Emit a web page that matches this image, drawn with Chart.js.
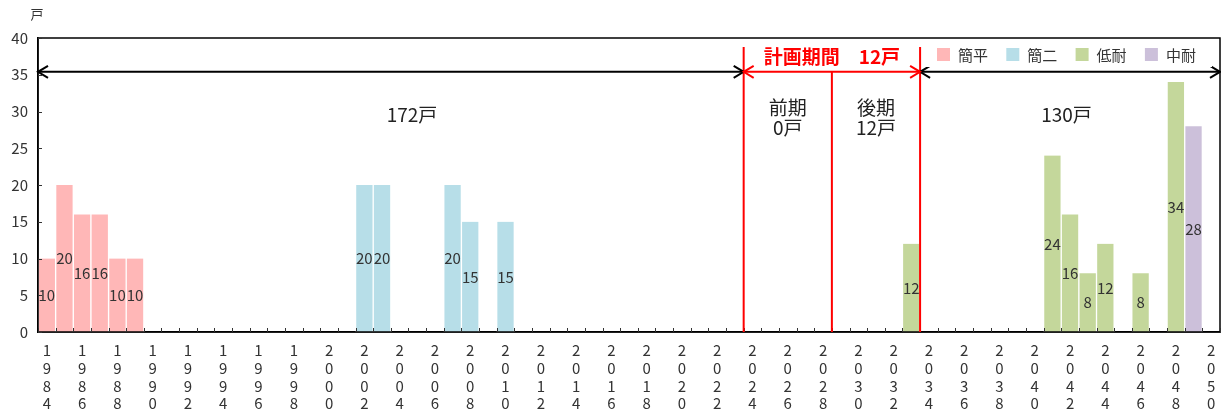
<!DOCTYPE html>
<html lang="ja">
<head>
<meta charset="utf-8">
<script src="https://cdn.jsdelivr.net/npm/chart.js@4.4.1/dist/chart.umd.min.js"></script>
<style>
  html, body { margin: 0; padding: 0; background: #fff; }
  #wrap { width: 1221px; height: 412px; position: relative; }
</style>
</head>
<body>
<div id="wrap"><canvas id="c" width="1221" height="412"></canvas></div>
<script>
// 年度
const years = [
  1984, 1985, 1986, 1987, 1988, 1989, 1990, 1991, 1992, 1993,
  1994, 1995, 1996, 1997, 1998, 1999, 2000, 2001, 2002, 2003,
  2004, 2005, 2006, 2007, 2008, 2009, 2010, 2011, 2012, 2013,
  2014, 2015, 2016, 2017, 2018, 2019, 2020, 2021, 2022, 2023,
  2024, 2025, 2026, 2027, 2028, 2029, 2030, 2031, 2032, 2033,
  2034, 2035, 2036, 2037, 2038, 2039, 2040, 2041, 2042, 2043,
  2044, 2045, 2046, 2047, 2048, 2049, 2050
];

// 構造別の戸数（年度, 戸数）
const kanpeiYears  = [1984, 1985, 1986, 1987, 1988, 1989];
const kanpeiValues = [10, 20, 16, 16, 10, 10];
const kanniYears   = [2002, 2003, 2007, 2008, 2010];
const kanniValues  = [20, 20, 20, 15, 15];
const teitaiYears  = [2033, 2041, 2042, 2043, 2044, 2046, 2048];
const teitaiValues = [12, 24, 16, 8, 12, 8, 34];
const chutaiYears  = [2049];
const chutaiValues = [28];

const seriesNames = ['簡平', '簡二', '低耐', '中耐'];
const yTicks = [0, 5, 10, 15, 20, 25, 30, 35, 40];

// 期間区分（この年度の前に境界線）
const planStartYear = 2024;
const planMidYear = 2029;
const planEndYear = 2034;
const periodTexts = {
  before: '172戸',
  plan: '計画期間　12戸',
  first: ['前期', '0戸'],
  second: ['後期', '12戸'],
  after: '130戸'
};

function toSeries(ys, vs) {
  return years.map(y => {
    const i = ys.indexOf(y);
    return i >= 0 ? vs[i] : null;
  });
}

const colors = ['#FFB7B7', '#B7DEE8', '#C4D79B', '#CCC0DA'];
const FONT = '"Noto Sans CJK JP", "Noto Sans", sans-serif';

const datasets = [
  [kanpeiYears, kanpeiValues],
  [kanniYears, kanniValues],
  [teitaiYears, teitaiValues],
  [chutaiYears, chutaiValues]
].map((p, k) => ({
  label: seriesNames[k],
  data: toSeries(p[0], p[1]),
  backgroundColor: colors[k],
  borderColor: '#ffffff',
  borderWidth: { left: 1, right: 1, top: 0, bottom: 0 },
  borderSkipped: false,
  barPercentage: 1,
  categoryPercentage: 1
}));

function arrowHead(ctx, x, y, dir) {
  ctx.beginPath();
  ctx.moveTo(x + dir * 10, y - 6);
  ctx.lineTo(x, y);
  ctx.lineTo(x + dir * 10, y + 6);
  ctx.stroke();
}

function dblArrow(ctx, x1, x2, y, color) {
  ctx.save();
  ctx.strokeStyle = color;
  ctx.lineWidth = 2;
  ctx.beginPath();
  ctx.moveTo(x1, y);
  ctx.lineTo(x2, y);
  ctx.stroke();
  arrowHead(ctx, x1, y, 1);
  arrowHead(ctx, x2, y, -1);
  ctx.restore();
}

const decor = {
  id: 'decor',
  afterDatasetsDraw(chart) {
    const { ctx, chartArea: a, scales: { x, y } } = chart;

    // 枠線と内向きの目盛
    ctx.save();
    ctx.strokeStyle = '#000';
    ctx.lineWidth = 1.5;
    ctx.strokeRect(a.left, a.top, a.right - a.left, a.bottom - a.top);
    ctx.lineWidth = 1;
    ctx.strokeStyle = '#333';
    for (let i = 0; i <= years.length; i++) {
      const px = Math.round(x.getPixelForValue(i - 0.5)) + 0.5;
      ctx.beginPath();
      ctx.moveTo(px, a.bottom);
      ctx.lineTo(px, a.bottom - 4);
      ctx.stroke();
    }
    yTicks.forEach(v => {
      const py = Math.round(y.getPixelForValue(v)) + 0.5;
      ctx.beginPath();
      ctx.moveTo(a.left, py);
      ctx.lineTo(a.left + 4, py);
      ctx.stroke();
    });
    ctx.restore();

    // 値ラベル
    ctx.save();
    ctx.font = '15px ' + FONT;
    ctx.fillStyle = '#333';
    ctx.textAlign = 'center';
    ctx.textBaseline = 'middle';
    chart.data.datasets.forEach((ds, di) => {
      const meta = chart.getDatasetMeta(di);
      meta.data.forEach((el, i) => {
        const v = ds.data[i];
        if (v === null || v === undefined) return;
        ctx.fillText(String(v), el.x, (el.y + el.base) / 2);
      });
    });
    ctx.restore();

    // 期間の区切り
    const xs = x.getPixelForValue(years.indexOf(planStartYear) - 0.5);
    const xm = x.getPixelForValue(years.indexOf(planMidYear) - 0.5);
    const xe = x.getPixelForValue(years.indexOf(planEndYear) - 0.5);
    const ay = y.getPixelForValue(35.4);
    const topY = a.top + 9;

    ctx.save();
    ctx.strokeStyle = '#FF0000';
    ctx.lineWidth = 2;
    [[xs, topY], [xm, ay], [xe, topY]].forEach(([px, t]) => {
      ctx.beginPath();
      ctx.moveTo(px, t);
      ctx.lineTo(px, a.bottom);
      ctx.stroke();
    });
    ctx.restore();

    dblArrow(ctx, a.left, xs, ay, '#000');
    dblArrow(ctx, xe, a.right, ay, '#000');
    dblArrow(ctx, xs, xe, ay, '#FF0000');

    // 期間テキスト
    ctx.save();
    ctx.textAlign = 'center';
    ctx.textBaseline = 'middle';
    ctx.fillStyle = '#FF0000';
    ctx.font = 'bold 19px ' + FONT;
    ctx.fillText(periodTexts.plan, (xs + xe) / 2, a.top + 19);

    ctx.fillStyle = '#222';
    ctx.font = '19px ' + FONT;
    const ty = y.getPixelForValue(29.5);
    ctx.fillText(periodTexts.before, x.getPixelForValue(years.indexOf(2005) - 0.3), ty);
    ctx.fillText(periodTexts.after, x.getPixelForValue(years.indexOf(2042) - 0.2), ty);
    ctx.fillText(periodTexts.first[0], (xs + xm) / 2, ty - 7);
    ctx.fillText(periodTexts.first[1], (xs + xm) / 2, ty + 13);
    ctx.fillText(periodTexts.second[0], (xm + xe) / 2, ty - 7);
    ctx.fillText(periodTexts.second[1], (xm + xe) / 2, ty + 13);

    // 縦軸の単位
    ctx.font = '13px ' + FONT;
    ctx.fillStyle = '#333';
    ctx.fillText('戸', a.left - 1, a.top - 24);
    ctx.restore();

    // 凡例
    ctx.save();
    ctx.fillStyle = '#fff';
    ctx.fillRect(926, a.top + 3, 286, 26);
    ctx.font = '15px ' + FONT;
    ctx.textAlign = 'left';
    ctx.textBaseline = 'middle';
    const ly = a.top + 17;
    chart.data.datasets.forEach((ds, k) => {
      const bx = 937 + k * 69.3;
      ctx.fillStyle = ds.backgroundColor;
      ctx.fillRect(bx, ly - 7, 13, 13);
      ctx.fillStyle = '#333';
      ctx.fillText(ds.label, bx + 21, ly);
    });
    ctx.restore();
  }
};

new Chart(document.getElementById('c'), {
  type: 'bar',
  data: { labels: years.map(String), datasets },
  plugins: [decor],
  options: {
    responsive: false,
    animation: false,
    layout: { padding: { top: 38, right: 1, left: 0, bottom: 0 } },
    plugins: {
      legend: { display: false },
      tooltip: { enabled: false }
    },
    scales: {
      x: {
        stacked: true,
        offset: true,
        grid: { display: false, drawTicks: false },
        border: { display: true, color: '#000', width: 1.5 },
        afterFit(s) {
          s.height = 80;
          s.paddingLeft = 0;
          s.paddingRight = 0;
        },
        ticks: {
          autoSkip: false,
          maxRotation: 0,
          minRotation: 0,
          padding: 10,
          color: '#333',
          font: { family: FONT, size: 15, lineHeight: 1.17 },
          callback(v, i) {
            return i % 2 === 0 ? String(years[i]).split('') : '';
          }
        }
      },
      y: {
        stacked: true,
        min: 0,
        max: 40,
        grid: { display: false, drawTicks: false },
        border: { display: true, color: '#000', width: 1.5 },
        afterFit(s) { s.width = 38; },
        ticks: {
          stepSize: 5,
          padding: 10,
          color: '#333',
          font: { family: FONT, size: 15 }
        }
      }
    }
  }
});
</script>
</body>
</html>
